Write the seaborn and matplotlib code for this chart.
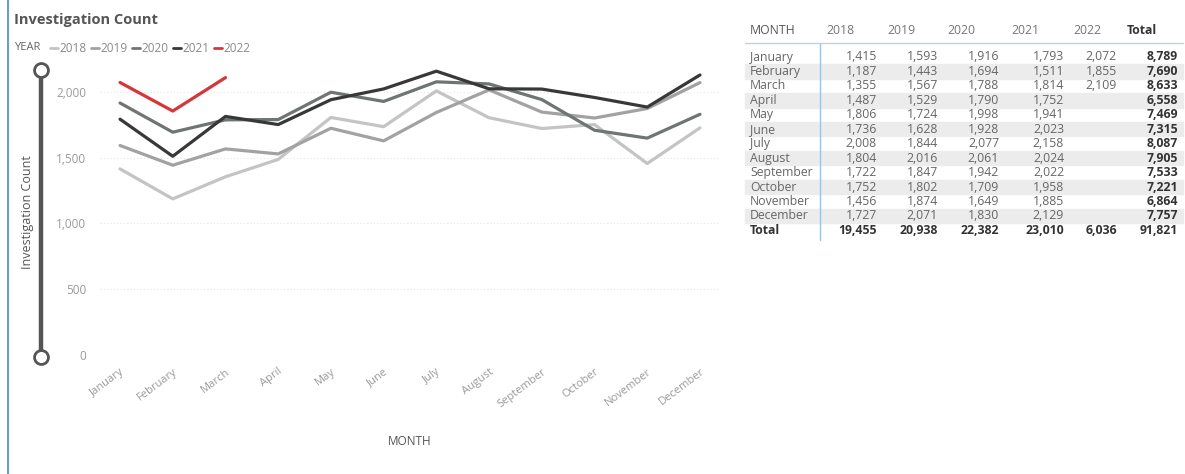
import matplotlib
matplotlib.use("Agg")
import matplotlib.pyplot as plt
from matplotlib.lines import Line2D
from matplotlib.patches import Rectangle
from matplotlib.ticker import FuncFormatter
from matplotlib.transforms import ScaledTranslation
import seaborn as sns
import pandas as pd

# ---------------- data ----------------
months = ["January", "February", "March", "April", "May", "June", "July",
          "August", "September", "October", "November", "December"]
years = ["2018", "2019", "2020", "2021", "2022"]
y2018 = [1415, 1187, 1355, 1487, 1806, 1736, 2008, 1804, 1722, 1752, 1456, 1727]
y2019 = [1593, 1443, 1567, 1529, 1724, 1628, 1844, 2016, 1847, 1802, 1874, 2071]
y2020 = [1916, 1694, 1788, 1790, 1998, 1928, 2077, 2061, 1942, 1709, 1649, 1830]
y2021 = [1793, 1511, 1814, 1752, 1941, 2023, 2158, 2024, 2022, 1958, 1885, 2129]
y2022 = [2072, 1855, 2109]
yticks = [0, 500, 1000, 1500, 2000]

series = {"2018": y2018, "2019": y2019, "2020": y2020, "2021": y2021, "2022": y2022}
palette = {"2018": "#c4c4c4", "2019": "#a2a2a2", "2020": "#6f7570",
           "2021": "#383838", "2022": "#d6363a"}

rows = []
for yr, vals in series.items():
    for m, v in zip(months, vals):
        rows.append({"MONTH": m, "YEAR": yr, "Count": v})
df = pd.DataFrame(rows)
df["pos"] = df["MONTH"].map({m: i for i, m in enumerate(months)})

# ---------------- figure ----------------
W, H = 1185, 474
sns.set_theme(style="white")
plt.rcParams["font.family"] = ["Open Sans", "DejaVu Sans"]
fig = plt.figure(figsize=(W / 100, H / 100), dpi=100)


def px(x, y):
    return x / W, 1 - y / H


ax_l, ax_r, ax_t, ax_b = 100, 720, 45, 355
ax = fig.add_axes([ax_l / W, 1 - ax_b / H, (ax_r - ax_l) / W, (ax_b - ax_t) / H])
sns.lineplot(data=df, x="pos", y="Count", hue="YEAR", palette=palette,
             hue_order=years, linewidth=2.3, ax=ax, legend=False, sort=False)

ax.set_xlim(-0.38, 11.38)
ax.set_ylim(0, 2357)
ax.set_yticks(yticks)
ax.yaxis.set_major_formatter(FuncFormatter(lambda v, p: f"{int(v):,}"))
ax.set_xticks(range(len(months)))
ax.set_xticklabels(months, rotation=37, ha="right", rotation_mode="anchor")
shift = ScaledTranslation(-6 / 72, 0, fig.dpi_scale_trans)
for lab in ax.get_xticklabels():
    lab.set_transform(lab.get_transform() + shift)
ax.tick_params(axis="x", colors="#9a9a9a", labelsize=8, length=0, pad=8)
ax.tick_params(axis="y", colors="#9a9a9a", labelsize=8.5, length=0, pad=10)
ax.grid(axis="y", color="#e6e6e6", linestyle=(0, (1, 2)), linewidth=0.8)
ax.grid(axis="x", visible=False)
for s in ax.spines.values():
    s.set_visible(False)
ax.set_xlabel("MONTH", color="#555555", fontsize=8.5, labelpad=18)
ax.set_ylabel("")

# y-axis title
fig.text(*px(27, 212), "Investigation Count", rotation=90, ha="center", va="center",
         color="#555555", fontsize=9)

# left border
fig.add_artist(Line2D([8 / W, 8 / W], [0, 1], color="#6d9ec9", lw=1.5,
                      transform=fig.transFigure))

# slider decoration
sx = 41
fig.add_artist(Line2D([sx / W, sx / W], [1 - 76 / H, 1 - 350 / H], color="#555555",
                      lw=3.2, transform=fig.transFigure))
for cy in (70, 357):
    fig.add_artist(Line2D([sx / W], [1 - cy / H], marker="o", ms=10, mfc="white",
                          mec="#555555", mew=2, transform=fig.transFigure))

# title and legend
fig.text(*px(14, 20), "Investigation Count", ha="left", va="center",
         color="#555555", fontsize=10.5, fontweight="bold")
fig.text(*px(14, 48), "YEAR", ha="left", va="center", color="#666666", fontsize=8)
lx = 50
for yr in years:
    fig.add_artist(Line2D([lx / W, (lx + 8) / W], [1 - 48 / H, 1 - 48 / H],
                          color=palette[yr], lw=2, transform=fig.transFigure))
    fig.text(*px(lx + 9, 48), yr, ha="left", va="center", color="#8a8a8a", fontsize=8.5)
    lx += 41

# ---------------- table ----------------
fs = 8.8
hdr_left = [826, 887, 947, 1011, 1073, 1127]
val_right = [877, 938, 999, 1064, 1117, 1178]
row0, pitch = 57, 14.45
tbl_l, tbl_r = 745, 1183

for i, m in enumerate(months):
    yc = row0 + i * pitch
    if i % 2 == 1:
        x0, y0 = px(tbl_l, yc + pitch / 2)
        fig.add_artist(Rectangle((x0, y0), (tbl_r - tbl_l) / W, pitch / H,
                                 color="#ececec", transform=fig.transFigure, zorder=0))

fig.text(*px(750, 30), "MONTH", ha="left", va="center", color="#555555", fontsize=fs)
for j, yr in enumerate(years):
    fig.text(*px(hdr_left[j], 30), yr, ha="left", va="center", color="#777777", fontsize=fs)
fig.text(*px(hdr_left[5], 30), "Total", ha="left", va="center", color="#333333",
         fontsize=fs, fontweight="bold")

fig.add_artist(Line2D([tbl_l / W, tbl_r / W], [1 - 43 / H, 1 - 43 / H], color="#b9d3ea",
                      lw=1, transform=fig.transFigure))
fig.add_artist(Line2D([820 / W, 820 / W], [1 - 44 / H, 1 - 240 / H], color="#9cc2e5",
                      lw=1, transform=fig.transFigure))

for i, m in enumerate(months):
    yc = row0 + i * pitch
    fig.text(*px(750, yc), m, ha="left", va="center", color="#666666", fontsize=fs)
    total = 0
    for j, yr in enumerate(years):
        vals = series[yr]
        if i < len(vals):
            total += vals[i]
            fig.text(*px(val_right[j], yc), f"{vals[i]:,}", ha="right", va="center",
                     color="#666666", fontsize=fs)
    fig.text(*px(val_right[5], yc), f"{total:,}", ha="right", va="center",
             color="#333333", fontsize=fs, fontweight="bold")

yc = row0 + 12 * pitch
fig.text(*px(750, yc), "Total", ha="left", va="center", color="#333333",
         fontsize=fs, fontweight="bold")
grand = 0
for j, yr in enumerate(years):
    s = sum(series[yr])
    grand += s
    fig.text(*px(val_right[j], yc), f"{s:,}", ha="right", va="center",
             color="#333333", fontsize=fs, fontweight="bold")
fig.text(*px(val_right[5], yc), f"{grand:,}", ha="right", va="center",
         color="#333333", fontsize=fs, fontweight="bold")

fig.savefig("out.png", dpi=100, facecolor="white")
